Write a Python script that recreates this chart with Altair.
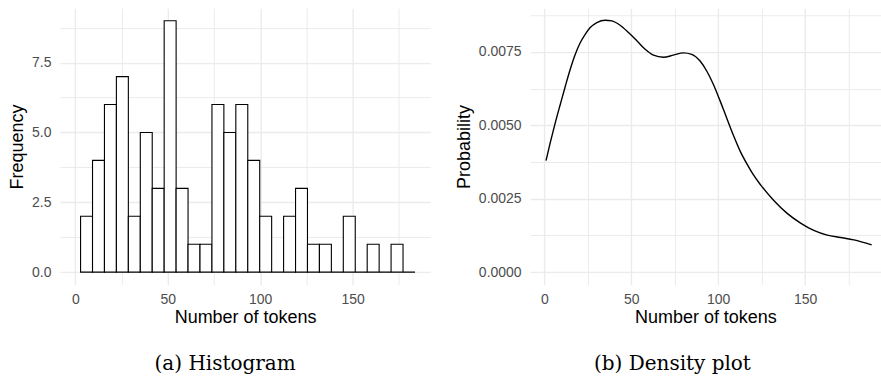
import altair as alt
import pandas as pd

# ---- Histogram data ----
bin_start = [2.86, 9.32, 15.77, 22.23, 28.69, 35.15, 41.60, 48.06, 54.52, 60.97,
             67.43, 73.89, 80.34, 86.80, 93.26, 99.72, 106.17, 112.63, 119.09, 125.54,
             132.00, 138.46, 144.91, 151.37, 157.83, 164.29, 170.74, 177.20]
bin_end = [9.32, 15.77, 22.23, 28.69, 35.15, 41.60, 48.06, 54.52, 60.97, 67.43,
           73.89, 80.34, 86.80, 93.26, 99.72, 106.17, 112.63, 119.09, 125.54, 132.00,
           138.46, 144.91, 151.37, 157.83, 164.29, 170.74, 177.20, 183.66]
counts = [2, 4, 6, 7, 2, 5, 3, 9, 3, 1,
          1, 6, 5, 6, 4, 2, 0, 2, 3, 1,
          1, 0, 2, 0, 1, 0, 1, 0]

# ---- Density curve ----
dens_x = [0.96, 3.4, 6.3, 9.2, 12.1, 14.9, 17.8, 20.7, 23.5, 26.4, 30.2, 35.0, 38.8,
          43.6, 48.4, 53.2, 58.0, 62.8, 68.5, 74.2, 80.0, 84.8, 89.6, 93.4, 97.2,
          101.0, 104.9, 108.7, 112.5, 116.7, 120.2, 124.3, 132.0, 139.7, 147.4,
          155.0, 162.7, 170.4, 178.1, 188.3]
dens_y = [0.00380, 0.00441, 0.00509, 0.00572, 0.00634, 0.00691, 0.00742, 0.00782,
          0.00810, 0.00833, 0.00850, 0.00858, 0.00856, 0.00841, 0.00816, 0.00788,
          0.00759, 0.00739, 0.00732, 0.00739, 0.00747, 0.00742, 0.00719, 0.00685,
          0.00640, 0.00585, 0.00525, 0.00467, 0.00414, 0.00367, 0.00332, 0.00298,
          0.00244, 0.00200, 0.00167, 0.00142, 0.00126, 0.00118, 0.00110, 0.00093]

x_grid_vals = [0, 25, 50, 75, 100, 125, 150, 175]
hist_y_vals = [0, 1.25, 2.5, 3.75, 5, 6.25, 7.5, 8.75]
dens_y_vals = [0, 0.00125, 0.0025, 0.00375, 0.005, 0.00625, 0.0075, 0.00875]

hist_df = pd.DataFrame({"start": bin_start, "end": bin_end, "count": counts})
dens_df = pd.DataFrame({"x": dens_x, "y": dens_y})

SANS = "Liberation Sans"
SERIF = "DejaVu Serif"

def grid_width(test):
    return {"condition": {"test": test, "value": 1.4}, "value": 1.0}

x_axis = alt.Axis(
    values=x_grid_vals,
    labelExpr="datum.value % 50 === 0 ? datum.label : ''",
    title="Number of tokens",
    gridWidth=grid_width("datum.value % 50 === 0"),
)

hist = alt.Chart(hist_df).mark_rect(
    fill="white", stroke="black", strokeWidth=1.1
).encode(
    x=alt.X("start:Q", scale=alt.Scale(domain=[-8.3, 191.9], nice=False, zero=False),
            axis=x_axis),
    x2="end:Q",
    y=alt.Y("count:Q", scale=alt.Scale(domain=[-0.45, 9.45], nice=False, zero=False),
            axis=alt.Axis(values=hist_y_vals,
                          labelExpr="round(datum.value*100) % 250 === 0 ? format(datum.value, '.1f') : ''",
                          title="Frequency",
                          gridWidth=grid_width("round(datum.value*100) % 250 === 0"))),
    y2=alt.datum(0),
).properties(
    width=370.7, height=276.8,
    title=alt.TitleParams("(a) Histogram", orient="bottom", anchor="middle", frame="group",
                          dx=-20, offset=27, font=SERIF, fontSize=20, fontWeight="normal",
                          color="black"),
)

dens = alt.Chart(dens_df).mark_line(
    color="black", strokeWidth=1.4, interpolate="monotone"
).encode(
    x=alt.X("x:Q", scale=alt.Scale(domain=[-8.2, 193.5], nice=False, zero=False),
            axis=x_axis),
    y=alt.Y("y:Q", scale=alt.Scale(domain=[-0.000428, 0.00899], nice=False, zero=False),
            axis=alt.Axis(values=dens_y_vals,
                          labelExpr="round(datum.value*100000) % 250 === 0 ? format(datum.value, '.4f') : ''",
                          title="Probability",
                          gridWidth=grid_width("round(datum.value*100000) % 250 === 0"))),
).properties(
    width=351, height=276.8,
    title=alt.TitleParams("(b) Density plot", orient="bottom", anchor="middle", frame="group",
                          dx=-33, offset=27, font=SERIF, fontSize=20, fontWeight="normal",
                          color="black"),
)

chart = alt.hconcat(hist, dens, spacing=99.7, bounds="flush").properties(
    padding={"left": 8, "top": 8, "right": 0, "bottom": 0},
    background="white",
).configure_view(stroke=None).configure_axis(
    domain=False, ticks=False, tickSize=0,
    gridColor="#EBEBEB",
    labelFont=SANS, labelFontSize=14, labelColor="#4D4D4D", labelPadding=8,
    titleFont=SANS, titleFontSize=18, titleFontWeight="normal", titleColor="black",
    titlePadding=2,
).configure_axisY(labelPadding=9, titlePadding=5)

chart.save("out.html", embed_options={"renderer": "svg", "actions": False})
